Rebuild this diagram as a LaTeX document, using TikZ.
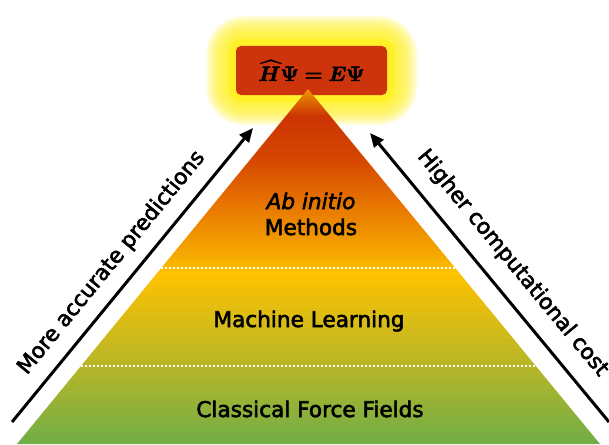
\documentclass[tikz,border=0pt]{standalone}
\usepackage{amsmath,bm}
\usepackage{fontspec}
\setmainfont{DejaVu Sans}
\usetikzlibrary{arrows.meta,calc}

% slightly heavier text: fill and stroke the glyph outlines
\newcommand\heavytext[1]{\special{pdf:literal direct 2 Tr 0.55 w}#1\special{pdf:literal direct 0 Tr}}

% level colours, from the base of the pyramid up to its tip
\definecolor{lvgreen}{RGB}{112,173,71}
\definecolor{lvolive}{RGB}{182,182,40}
\definecolor{lvyellow}{RGB}{255,194,0}
\definecolor{lvgold}{RGB}{246,170,0}
\definecolor{lvorange}{RGB}{232,118,0}
\definecolor{lvredorange}{RGB}{214,72,0}
\definecolor{lvred}{RGB}{204,52,4}
\definecolor{lvtip}{RGB}{236,150,0}
\definecolor{boxred}{RGB}{205,52,12}
\definecolor{glowyellow}{RGB}{255,240,40}

% vertical gradient of the pyramid (the middle 50bp span is fitted to the shape)
\pgfdeclareverticalshading{pyramidfill}{100bp}{%
  color(0bp)=(lvgreen); color(25bp)=(lvgreen);
  color(35.96bp)=(lvolive); color(49.2bp)=(lvyellow);
  color(51.5bp)=(lvgold); color(58.6bp)=(lvorange);
  color(64.9bp)=(lvredorange); color(71.2bp)=(lvred);
  color(75bp)=(lvtip); color(100bp)=(lvtip)}

\tikzset{
  levellabel/.style={font=\fontsize{21.6}{26}\selectfont, align=center, inner sep=0pt},
  sidelabel/.style={font=\fontsize{21.6}{26}\selectfont, inner sep=0pt, sloped},
  sidearrow/.style={line width=3pt, -{Triangle[length=14pt,width=12pt]}},
  levelsep/.style={draw=white, line width=2.2pt, dash pattern=on 2pt off 2pt},
  eqbox/.style={fill=boxred, rounded corners=5pt, minimum width=151pt,
    minimum height=49pt, inner sep=0pt},
}

\begin{document}
\begin{tikzpicture}[x=1pt, y=-1pt]
  \useasboundingbox (0,0) rectangle (609,444);

  % yellow glow round the equation box: soft outer rim, solid core
  \foreach \r in {30,28,...,10}
    \fill[glowyellow, opacity=0.16, rounded corners=8pt+\r pt]
      (236-\r,46-\r) rectangle (387+\r,95+\r);
  \fill[glowyellow, rounded corners=12pt] (229,39) rectangle (394,102);

  % equation box at the tip
  \node[eqbox] (eq) at (311.5,70.5)
    {\fontsize{22.5}{26}\selectfont\heavytext{$\bm{\widehat{H}\Psi = E\Psi}$}};

  % pyramid corners
  \coordinate (apex) at (308,89);
  \coordinate (bl) at (17,444);
  \coordinate (br) at (600,444);

  % the pyramid with its gradient
  \shade[shading=pyramidfill] (apex) -- (bl) -- (br) -- cycle;

  % dotted separators between the levels
  \coordinate (s1l) at ($(bl)!0.4958!(apex)$);
  \coordinate (s1r) at ($(br)!0.4958!(apex)$);
  \coordinate (s2l) at ($(bl)!0.2197!(apex)$);
  \coordinate (s2r) at ($(br)!0.2197!(apex)$);
  \draw[levelsep] (s1l) -- (s1r);
  \draw[levelsep] (s2l) -- (s2r);

  % level labels
  \node[levellabel, anchor=base] (abinitio) at (311,209) {\heavytext{\itshape Ab initio}};
  \node[levellabel, anchor=base] (methods) at (311,235) {\heavytext{Methods}};
  \node[levellabel, anchor=base] (ml) at (309,327) {\heavytext{Machine Learning}};
  \node[levellabel, anchor=base] (cff) at (310,417) {\heavytext{Classical Force Fields}};

  % side arrows with their captions
  \coordinate (la) at (12,422);
  \coordinate (lb) at (253,128);
  \coordinate (ra) at (609,422);
  \coordinate (rb) at (370,133);
  \draw[sidearrow] (la) -- node[sidelabel, pos=0.49, above=12pt] (lefttext)
    {\heavytext{More accurate predictions}} (lb);
  \draw[sidearrow] (ra) -- node[sidelabel, pos=0.49, above=15pt] (righttext)
    {\heavytext{Higher computational cost}} (rb);
\end{tikzpicture}
\end{document}
